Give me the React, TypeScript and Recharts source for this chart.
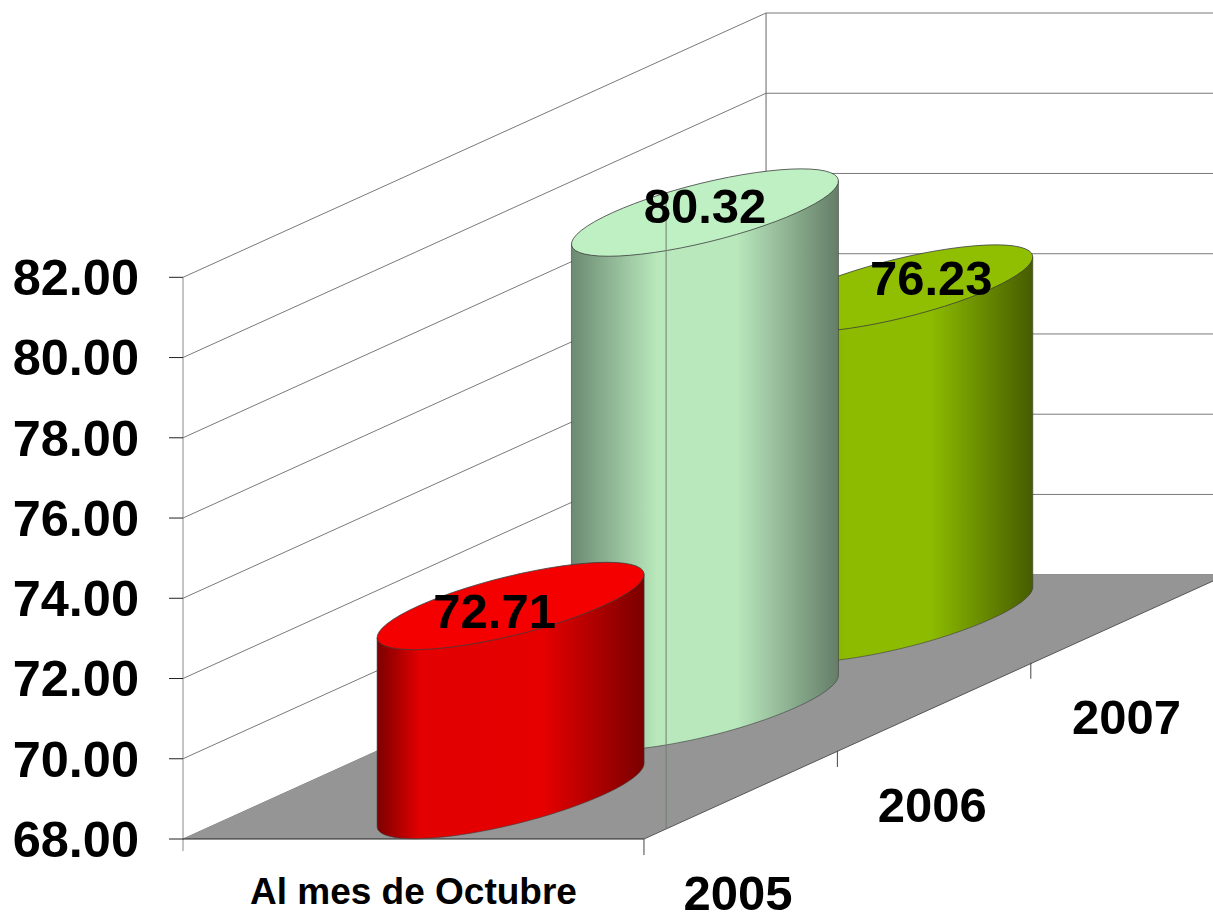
import { Area, Bar, ComposedChart, LabelList, ReferenceDot, ReferenceLine, XAxis, YAxis } from "recharts";

const years = ["2005", "2006", "2007"];
const values = [72.71, 80.32, 76.23];
const yTicks = [68, 70, 72, 74, 76, 78, 80, 82];
const categoryLabel = "Al mes de Octubre";

// oblique projection: x runs 0..1 across the front, each year steps back and up
const STEP_X = 0.4216;
const STEP_LIFT = 2.196;
const BASE = 68;
const TOP = 82;
const DEPTH_X = STEP_X * years.length;
const DEPTH_LIFT = STEP_LIFT * years.length;

const px = (w: number, z: number) => w + z * STEP_X;
const lift = (z: number) => z * STEP_LIFT;

const sideStops = [
  ["#7c0000", "#e20000", "#e60000", "#7a0000"],
  ["#6c8a72", "#b8e8bc", "#b8e8bc", "#647d68"],
  ["#6c8f00", "#8cbb00", "#8cbb00", "#465c00"],
];
const lightStart = ["16%", "32%", "30%"];
const lightEnd = ["62%", "62%", "62%"];
const topColors = ["#f40000", "#bff0c3", "#8fbf00"];
const labelShiftX = [-16, 0, 32];
const labelShiftY = [5, -7, -11];

// back to front so the nearer cylinder paints over the farther one
const barRows = [2, 1, 0].map((i) => ({
  i,
  x: px(0.5, i + 0.5),
  value: values[i],
  span: [BASE + lift(i + 0.5), values[i] + lift(i + 0.5)],
}));

const floorRows = [
  { x: 0, floor: [BASE, BASE] },
  { x: 1, floor: [BASE, BASE + (DEPTH_LIFT * 1) / DEPTH_X] },
  { x: DEPTH_X, floor: [BASE + (DEPTH_LIFT * (DEPTH_X - 1)) / DEPTH_X, BASE + DEPTH_LIFT] },
  { x: DEPTH_X + 1, floor: [BASE + DEPTH_LIFT, BASE + DEPTH_LIFT] },
];

const CYLINDER_WIDTH = 267;
const ELLIPSE_RY = 43.7;
const SLOPE = 0.453;

function Cylinder(props: any) {
  const { x, y, width, height, payload } = props;
  const i = payload.i;
  const cx = x + width / 2;
  const hw = CYLINDER_WIDTH / 2;
  const skew = ELLIPSE_RY / SLOPE;
  const a = Math.sqrt(hw * hw - skew * skew);
  const pt = (t: number, cy: number) => [cx + a * Math.cos(t) + skew * Math.sin(t), cy - ELLIPSE_RY * Math.sin(t)];
  const tRight = Math.atan2(skew, a);
  const arc = (from: number, to: number, cy: number) => {
    const out: string[] = [];
    for (let k = 0; k <= 60; k++) {
      const p = pt(from + ((to - from) * k) / 60, cy);
      out.push(`${p[0].toFixed(2)} ${p[1].toFixed(2)}`);
    }
    return out;
  };
  const bottom = y + height;
  const side = arc(tRight + Math.PI, tRight + 2 * Math.PI, bottom);
  const startTop = pt(tRight + Math.PI, y);
  const endTop = pt(tRight, y);
  const sidePath = `M${startTop[0].toFixed(2)} ${startTop[1].toFixed(2)} L${side.join(" L")} L${endTop[0].toFixed(2)} ${endTop[1].toFixed(2)} Z`;
  const topPath = `M${arc(0, 2 * Math.PI, y).join(" L")} Z`;
  const stops = sideStops[i];
  return (
    <g>
      <defs>
        <linearGradient id={`side-${i}`} x1="0" y1="0" x2="1" y2="0">
          <stop offset="0%" stopColor={stops[0]} />
          <stop offset={lightStart[i]} stopColor={stops[1]} />
          <stop offset={lightEnd[i]} stopColor={stops[2]} />
          <stop offset="100%" stopColor={stops[3]} />
        </linearGradient>
      </defs>
      <path d={sidePath} fill={`url(#side-${i})`} stroke="#3c3c3c" strokeWidth={0.6} />
      <path d={topPath} fill={topColors[i]} stroke="#3c3c3c" strokeWidth={0.8} />
    </g>
  );
}

function ValueLabel(props: any) {
  const { x, y, width, index, value } = props;
  const i = barRows[index].i;
  return (
    <text
      x={x + width / 2 + labelShiftX[i]}
      y={y + labelShiftY[i]}
      textAnchor="middle"
      dominantBaseline="central"
      fontFamily="Liberation Sans"
      fontWeight="bold"
      fontSize={49}
      fill="#000"
    >
      {Number(value).toFixed(2)}
    </text>
  );
}

const seg = (x1: number, y1: number, x2: number, y2: number) => [
  { x: x1, y: y1 },
  { x: x2, y: y2 },
];

export default function App() {
  return (
    <div style={{ position: "absolute", left: 0, top: 0, width: 1213, height: 912, overflow: "hidden", background: "#fff" }}>
      <ComposedChart
        width={1227}
        height={912}
        data={barRows}
        margin={{ top: 13, right: 0, bottom: 0, left: 0 }}
        barSize={268}
      >
        <XAxis
          type="number"
          dataKey="x"
          domain={[0, DEPTH_X + 1]}
          ticks={[0.5]}
          tickFormatter={() => categoryLabel}
          axisLine={false}
          tickLine={false}
          height={73}
          tickMargin={33}
          tick={{ fill: "#000", fontSize: 37, fontWeight: "bold", fontFamily: "Liberation Sans" }}
          allowDecimals
        />
        <YAxis
          type="number"
          domain={[BASE, BASE + (TOP - BASE) + DEPTH_LIFT]}
          ticks={yTicks}
          interval={0}
          width={183}
          axisLine={false}
          tickSize={14}
          tickMargin={30}
          tickLine={{ stroke: "#222" }}
          tickFormatter={(v: number) => v.toFixed(2)}
          tick={{ fill: "#000", fontSize: 50.5, fontWeight: "bold", fontFamily: "Liberation Sans" }}
        />

        {/* walls */}
        {yTicks.map((v) => (
          <ReferenceLine
            key={`side-${v}`}
            segment={seg(0, v, DEPTH_X, v + DEPTH_LIFT)}
            stroke="#7a7a7a"
            strokeWidth={1}
            ifOverflow="visible"
            zIndex={-10}
          />
        ))}
        {yTicks.map((v) => (
          <ReferenceLine
            key={`back-${v}`}
            segment={seg(DEPTH_X, v + DEPTH_LIFT, DEPTH_X + 1, v + DEPTH_LIFT)}
            stroke="#7a7a7a"
            strokeWidth={1}
            ifOverflow="visible"
            zIndex={-10}
          />
        ))}
        <ReferenceLine
          segment={seg(DEPTH_X, BASE + DEPTH_LIFT, DEPTH_X, TOP + DEPTH_LIFT)}
          stroke="#666"
          strokeWidth={1}
          ifOverflow="visible"
          zIndex={-10}
        />
        <ReferenceLine segment={seg(0, 67.7, 0, TOP)} stroke="#888" strokeWidth={1} ifOverflow="visible" zIndex={-10} />

        <Area
          data={floorRows}
          dataKey="floor"
          type="linear"
          fill="#959595"
          fillOpacity={1}
          stroke="none"
          dot={false}
          activeDot={false}
          isAnimationActive={false}
        />
        <ReferenceLine segment={seg(0, BASE, 1, BASE)} stroke="#222" strokeWidth={1.2} ifOverflow="visible" zIndex={120} />
        <ReferenceLine
          segment={seg(1, BASE, DEPTH_X + 1, BASE + DEPTH_LIFT)}
          stroke="#555"
          strokeWidth={1}
          ifOverflow="visible"
          zIndex={120}
        />
        {/* depth ticks under the floor edge */}
        {[0, 1, 2].map((z) => (
          <ReferenceLine
            key={`depth-${z}`}
            segment={seg(px(1, z) - z * 0.002, BASE + lift(z), px(1, z) - z * 0.002, BASE + lift(z) - 0.4)}
            stroke="#444"
            strokeWidth={1}
            ifOverflow="visible"
            zIndex={120}
          />
        ))}

        <Bar dataKey="span" shape={Cylinder} isAnimationActive={false}>
          <LabelList dataKey="value" content={ValueLabel} />
        </Bar>

        {/* the old chart's front wall edge shows through the middle cylinder */}
        <ReferenceLine
          segment={seg(px(1, 0) + 0.048, BASE + 0.27, px(1, 0) + 0.048, TOP + 2)}
          stroke="#6f7f70"
          strokeWidth={1}
          ifOverflow="visible"
          zIndex={350}
        />

        {years.map((year, z) => (
          <ReferenceDot
            key={year}
            x={px(1, z + 0.5) - 0.007}
            y={BASE + lift(z + 0.5) - 2.44}
            r={0}
            fill="none"
            stroke="none"
            ifOverflow="visible"
            label={{
              value: year,
              position: "center",
              fill: "#000",
              fontSize: 49,
              fontWeight: "bold",
              fontFamily: "Liberation Sans",
            }}
          />
        ))}
      </ComposedChart>
    </div>
  );
}
